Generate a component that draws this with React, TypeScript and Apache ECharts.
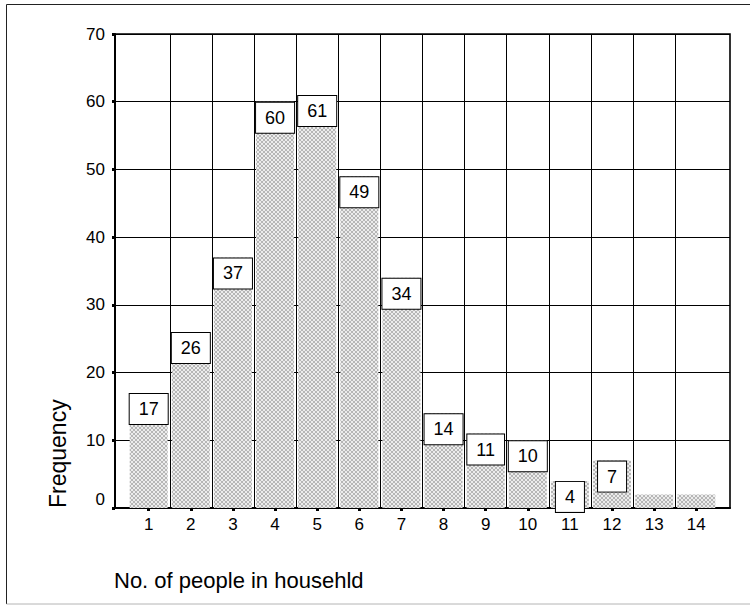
import React, { useEffect, useRef } from 'react';
import * as echarts from 'echarts';

const categories = [1, 2, 3, 4, 5, 6, 7, 8, 9, 10, 11, 12, 13, 14];
const frequencies = [17, 26, 37, 60, 61, 49, 34, 14, 11, 10, 4, 7, 2, 2];
const labelShown = [true, true, true, true, true, true, true, true, true, true, true, true, false, false];
const categoryBoundaries = [1.5, 2.5, 3.5, 4.5, 5.5, 6.5, 7.5, 8.5, 9.5, 10.5, 11.5, 12.5, 13.5];
const yMin = 0;
const yMax = 70;
const yStep = 10;
const xTitle = 'No. of people in househld';
const yTitle = 'Frequency';

const FONT = '"Liberation Sans", Arial, Helvetica, sans-serif';

function makePattern(): HTMLCanvasElement {
  const c = document.createElement('canvas');
  c.width = 4;
  c.height = 4;
  const ctx = c.getContext('2d')!;
  for (let i = 0; i < 4; i++) {
    for (let j = 0; j < 4; j++) {
      ctx.fillStyle = i === j || i + j === 3 ? '#b6b6b6' : '#ececec';
      ctx.fillRect(i, j, 1, 1);
    }
  }
  return c;
}

export default function App() {
  const ref = useRef<HTMLDivElement>(null);

  useEffect(() => {
    if (!ref.current) return;
    const chart = echarts.init(ref.current, null, { renderer: 'svg' });
    const pattern = makePattern();

    const option: any = {
      animation: false,
      textStyle: { fontFamily: FONT },
      grid: {
        left: 115,
        right: 20,
        top: 34,
        bottom: 97,
        show: true,
        borderColor: '#000',
        borderWidth: 1.6,
        backgroundColor: 'transparent',
      },
      xAxis: [
        {
          type: 'value',
          min: 0.2,
          max: 14.8,
          position: 'bottom',
          axisLine: { show: true, onZero: false, lineStyle: { color: '#000', width: 2 } },
          axisTick: {
            show: true,
            customValues: categories,
            length: 3,
            lineStyle: { color: '#000', width: 3 },
          },
          axisLabel: {
            customValues: categories,
            color: '#000',
            fontSize: 17,
            fontFamily: FONT,
            margin: 8,
          },
          splitLine: { show: false },
        },
        {
          type: 'value',
          min: 0.2,
          max: 14.8,
          position: 'top',
          axisLine: { show: false },
          axisTick: { show: false, customValues: categoryBoundaries },
          axisLabel: { show: false },
          splitLine: { show: true, lineStyle: { color: '#000', width: 1 } },
        },
      ],
      yAxis: {
        type: 'value',
        min: yMin,
        max: yMax,
        interval: yStep,
        axisLine: { show: true, lineStyle: { color: '#000', width: 2 } },
        axisTick: { show: true, length: 3, lineStyle: { color: '#000', width: 3 } },
        axisLabel: {
          color: '#000',
          fontSize: 17,
          fontFamily: FONT,
          margin: 10,
          verticalAlignMinLabel: 'bottom',
        },
        splitLine: { show: true, lineStyle: { color: '#000', width: 1 } },
      },
      series: [
        {
          type: 'bar',
          xAxisIndex: 0,
          yAxisIndex: 0,
          barWidth: 38,
          itemStyle: {
            color: { image: pattern, repeat: 'repeat' },
          },
          label: {
            show: true,
            position: 'insideTop',
            distance: 1,
            formatter: (p: any) => String(p.value[1]),
            backgroundColor: '#fff',
            borderColor: '#000',
            borderWidth: 1,
            padding: [6, 9, 6, 9],
            fontSize: 18,
            lineHeight: 18,
            color: '#000',
            fontFamily: FONT,
          },
          data: categories.map((c, i) => ({
            value: [c, frequencies[i]],
            label: { show: labelShown[i] },
          })),
        },
      ],
      graphic: [
        { type: 'line', shape: { x1: 6.5, y1: 4.5, x2: 750, y2: 4.5 }, style: { stroke: '#222', lineWidth: 1 } },
        { type: 'line', shape: { x1: 6.5, y1: 4.5, x2: 6.5, y2: 604 }, style: { stroke: '#222', lineWidth: 1 } },
        { type: 'line', shape: { x1: 6.5, y1: 604, x2: 750, y2: 604 }, style: { stroke: '#b4b4b4', lineWidth: 1 } },
        {
          type: 'text',
          x: 57.5,
          y: 508,
          rotation: Math.PI / 2,
          style: {
            text: yTitle,
            fontSize: 23,
            fontFamily: FONT,
            fill: '#000',
            align: 'left',
            verticalAlign: 'middle',
          },
        },
        {
          type: 'text',
          x: 114,
          y: 580,
          style: {
            text: xTitle,
            fontSize: 22,
            fontFamily: FONT,
            fill: '#000',
            align: 'left',
            verticalAlign: 'middle',
          },
        },
      ],
    };

    chart.setOption(option);
    return () => chart.dispose();
  }, []);

  return (
    <div
      ref={ref}
      style={{ position: 'absolute', left: 0, top: 0, width: 750, height: 605, background: '#fff' }}
    />
  );
}
